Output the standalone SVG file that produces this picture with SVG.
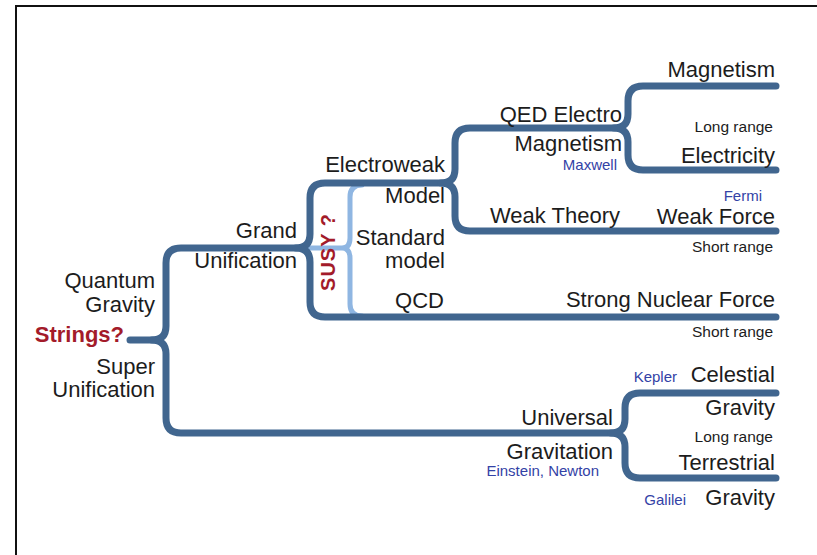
<svg xmlns="http://www.w3.org/2000/svg" width="817" height="555" viewBox="0 0 817 555">
<style>
.t{font-family:"Liberation Sans",Arial,sans-serif;font-size:22px;fill:#1c1c1c;text-anchor:end}
.s{font-family:"Liberation Sans",Arial,sans-serif;font-size:15.5px;fill:#1c1c1c;text-anchor:end}
.b{font-family:"Liberation Sans",Arial,sans-serif;font-size:15px;fill:#3342a6;text-anchor:end}
.r{font-family:"Liberation Sans",Arial,sans-serif;font-weight:bold;fill:#a31b2a}
.dk{fill:none;stroke:#41668f;stroke-width:7;stroke-linecap:round;stroke-linejoin:round}
.lt{fill:none;stroke:#8fb6e2;stroke-width:5;stroke-linecap:round;stroke-linejoin:round}
</style>
<rect width="817" height="555" fill="#ffffff"/>
<path d="M16,555 V6 H817" fill="none" stroke="#111" stroke-width="2"/>
<g id="connectors">
<path class="lt" d="M362,185 Q350,185 350,197 V238 Q350,248 342,248 H310 M342,248 Q350,248 350,258 V304 Q350,316 362,316"/>
<path class="dk" d="M130,340 H152 Q166,340 166,326 V263 Q166,248 181,248 H296 Q310,248 310,234 V198 Q310,183 325,183 H441 Q455,183 455,169 V143 Q455,128 470,128 H614 Q628,128 628,114 V101 Q628,86 643,86 H776"/>
<path class="dk" d="M152,340 Q166,340 166,354 V418 Q166,433 181,433 H611 Q625,433 625,419 V408 Q625,393 640,393 H776"/>
<path class="dk" d="M611,433 Q625,433 625,447 V463 Q625,478 640,478 H776"/>
<path class="dk" d="M296,248 Q310,248 310,262 V302 Q310,317 325,317 H776"/>
<path class="dk" d="M441,183 Q455,183 455,197 V216 Q455,231 470,231 H776"/>
<path class="dk" d="M614,128 Q628,128 628,142 V155 Q628,170 643,170 H776"/>
</g>
<g id="root">
<text class="t" x="155" y="288">Quantum</text>
<text class="t" x="155" y="312">Gravity</text>
<text class="r" x="124" y="342" font-size="22" text-anchor="end">Strings?</text>
<text class="t" x="155" y="374">Super</text>
<text class="t" x="155" y="397">Unification</text>
</g>
<g id="grand">
<text class="t" x="297" y="238">Grand</text>
<text class="t" x="297" y="268">Unification</text>
</g>
<g id="susy">
<text class="r" transform="translate(335,252) rotate(-90)" font-size="20" letter-spacing="1" text-anchor="middle">SUSY ?</text>
</g>
<g id="electroweak">
<text class="t" x="445" y="172">Electroweak</text>
<text class="t" x="445" y="203">Model</text>
</g>
<g id="standard">
<text class="t" x="445" y="245">Standard</text>
<text class="t" x="445" y="268">model</text>
</g>
<g id="qcd">
<text class="t" x="444" y="308">QCD</text>
</g>
<g id="qed">
<text class="t" x="622" y="122">QED  Electro</text>
<text class="t" x="622" y="151">Magnetism</text>
<text class="b" x="617" y="170">Maxwell</text>
</g>
<g id="magnetism">
<text class="t" x="775" y="77">Magnetism</text>
<text class="s" x="773" y="132">Long range</text>
</g>
<g id="electricity">
<text class="t" x="775" y="163">Electricity</text>
</g>
<g id="weaktheory">
<text class="t" x="620" y="223">Weak Theory</text>
</g>
<g id="weakforce">
<text class="b" x="762" y="201" font-size="14.5">Fermi</text>
<text class="t" x="775" y="224">Weak Force</text>
<text class="s" x="773" y="252">Short range</text>
</g>
<g id="strong">
<text class="t" x="775" y="307">Strong Nuclear Force</text>
<text class="s" x="773" y="337">Short range</text>
</g>
<g id="universal">
<text class="t" x="613" y="425">Universal</text>
<text class="t" x="613" y="459">Gravitation</text>
<text class="b" x="599" y="476">Einstein, Newton</text>
</g>
<g id="celestial">
<text class="b" x="677" y="382">Kepler</text>
<text class="t" x="775" y="382">Celestial</text>
<text class="t" x="775" y="415">Gravity</text>
<text class="s" x="773" y="442">Long range</text>
</g>
<g id="terrestrial">
<text class="t" x="775" y="470">Terrestrial</text>
<text class="b" x="686" y="505">Galilei</text>
<text class="t" x="775" y="505">Gravity</text>
</g>
</svg>
